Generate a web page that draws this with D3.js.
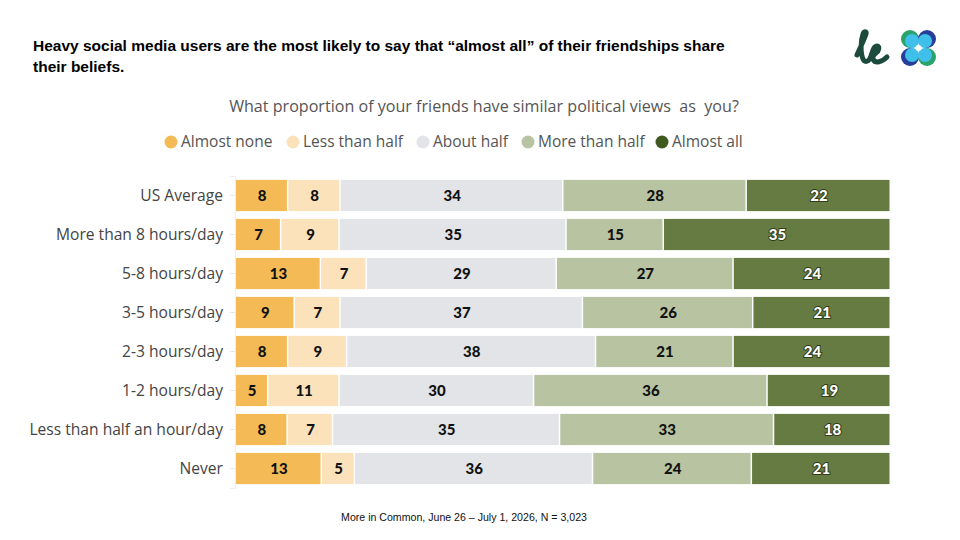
<!DOCTYPE html>
<html>
<head>
<meta charset="utf-8">
<script src="https://cdn.jsdelivr.net/npm/d3@7"></script>
<style>
  body { margin: 0; background: #fff; }
  svg { display: block; }
</style>
</head>
<body>
<div id="chart"></div>
<script>
// data
var categories = ["US Average", "More than 8 hours/day", "5-8 hours/day", "3-5 hours/day",
  "2-3 hours/day", "1-2 hours/day", "Less than half an hour/day", "Never"];
var seriesNames = ["Almost none", "Less than half", "About half", "More than half", "Almost all"];
var almostNone   = [8, 7, 13, 9, 8, 5, 8, 13];
var lessThanHalf = [8, 9, 7, 7, 9, 11, 7, 5];
var aboutHalf    = [34, 35, 29, 37, 38, 30, 35, 36];
var moreThanHalf = [28, 15, 27, 26, 21, 36, 33, 24];
var almostAll    = [22, 35, 24, 21, 24, 19, 18, 21];

var colors = ["#f4ba55", "#fbe2bb", "#e3e4e7", "#b8c3a2", "#667b41"];

var W = 960, H = 540;
var svg = d3.select("#chart").append("svg").attr("width", W).attr("height", H);

// build rows for d3.stack
var seriesVals = [almostNone, lessThanHalf, aboutHalf, moreThanHalf, almostAll];
var rows = categories.map(function(c, i) {
  var r = { cat: c };
  seriesNames.forEach(function(s, j) { r[s] = seriesVals[j][i]; });
  return r;
});

var stack = d3.stack().keys(seriesNames).offset(d3.stackOffsetExpand);
var stacked = stack(rows);

var x = d3.scaleLinear().domain([0, 1]).range([236, 891]);
var y = d3.scaleBand().domain(categories).range([176, 488]).paddingInner(0.2).paddingOuter(0.1);

var labelFont = "'Open Sans', Lato, sans-serif";

// title
var title = svg.append("text")
  .attr("x", 33).attr("y", 51)
  .style("font-family", "'Liberation Sans', Arial, sans-serif")
  .style("font-weight", "bold").style("font-size", "15.5px").style("fill", "#000");
title.append("tspan").attr("x", 33).attr("dy", 0)
  .text("Heavy social media users are the most likely to say that \u201calmost all\u201d of their friendships share");
title.append("tspan").attr("x", 33).attr("dy", 21).text("their beliefs.");

// subtitle
svg.append("text")
  .attr("x", 484).attr("y", 112)
  .attr("text-anchor", "middle")
  .style("white-space", "pre")
  .style("font-family", labelFont)
  .style("font-size", "16.1px").style("fill", "#555")
  .text("What proportion of your friends have similar political views  as  you?");

// legend
var legendX = [171, 293, 423, 528, 662];
var legend = svg.append("g").attr("class", "legend");
seriesNames.forEach(function(s, i) {
  var g = legend.append("g").attr("transform", "translate(" + legendX[i] + ",142)");
  g.append("circle").attr("r", 6.5).attr("fill", i == 4 ? "#3f5a1e" : colors[i]);
  g.append("text").attr("x", 10).attr("y", 5)
    .style("font-family", labelFont)
    .style("font-size", "15.5px").style("fill", "#555")
    .text(s);
});

// left axis
var axis = svg.append("g")
  .attr("transform", "translate(235,0)")
  .call(d3.axisLeft(y).tickSize(5).tickPadding(7));
axis.select(".domain").attr("stroke", "#eeeeee");
axis.selectAll(".tick line").attr("stroke", "#e6e6e6");
axis.selectAll(".tick text")
  .style("font-family", labelFont)
  .style("font-size", "15.6px").style("fill", "#444");

// bars
var layer = svg.selectAll(".layer")
  .data(stacked)
  .enter().append("g")
  .attr("class", "layer")
  .attr("fill", function(d, i) { return colors[i]; });

layer.selectAll("rect")
  .data(function(d) { return d; })
  .enter().append("rect")
  .attr("x", function(d) { return x(d[0]); })
  .attr("y", function(d) { return y(d.data.cat); })
  .attr("width", function(d) { return Math.max(0, x(d[1]) - x(d[0]) - 1.5); })
  .attr("height", y.bandwidth());

// value labels
stacked.forEach(function(s, i) {
  svg.append("g").selectAll("text")
    .data(s)
    .enter().append("text")
    .attr("x", function(d) { return (x(d[0]) + x(d[1])) / 2; })
    .attr("y", function(d) { return y(d.data.cat) + y.bandwidth() / 2 + 5; })
    .attr("text-anchor", "middle")
    .style("font-family", "Lato, 'Open Sans', sans-serif")
    .style("font-weight", "900").style("font-size", "15px")
    .style("fill", i == 4 ? "#fff" : "#111")
    .style("stroke", i == 4 ? "#2f3d1a" : "none")
    .style("stroke-width", i == 4 ? "2px" : 0)
    .style("paint-order", "stroke")
    .text(function(d) { return d.data[s.key]; });
});

// footer
svg.append("text")
  .attr("x", 464).attr("y", 521)
  .attr("text-anchor", "middle")
  .style("font-family", "'Liberation Sans', Arial, sans-serif")
  .style("font-size", "10.6px").style("fill", "#111")
  .text("More in Common, June 26 \u2013 July 1, 2026, N = 3,023");

// logo
var logo = svg.append("g").attr("class", "logo");
logo.append("path")
  .attr("d", "M857,55 C860,48 864,40 866,34 C867,31 864,31 863,34 C861,40 860,52 863,59 C865,63 869,62 871,56 C873,50 874,46 877,46 C880,46 879,51 876,53 C874,55 872,56 873,59 C875,64 882,62 887,57")
  .attr("fill", "none").attr("stroke", "#1c4a3c").attr("stroke-width", 5).attr("stroke-linecap", "round");
var cc = [[910, 39, "#2aa36a"], [927, 39, "#283f99"], [910, 57, "#283f99"], [927, 57, "#2aa36a"]];
cc.forEach(function(c) {
  logo.append("circle").attr("cx", c[0]).attr("cy", c[1]).attr("r", 9).attr("fill", c[2]);
});
[[912, 41], [925, 41], [912, 55], [925, 55]].forEach(function(c) {
  logo.append("circle").attr("cx", c[0]).attr("cy", c[1]).attr("r", 7).attr("fill", "#3fc0ea");
});
logo.append("circle").attr("cx", 918.5).attr("cy", 48).attr("r", 3).attr("fill", "#ffffff");
</script>
</body>
</html>
